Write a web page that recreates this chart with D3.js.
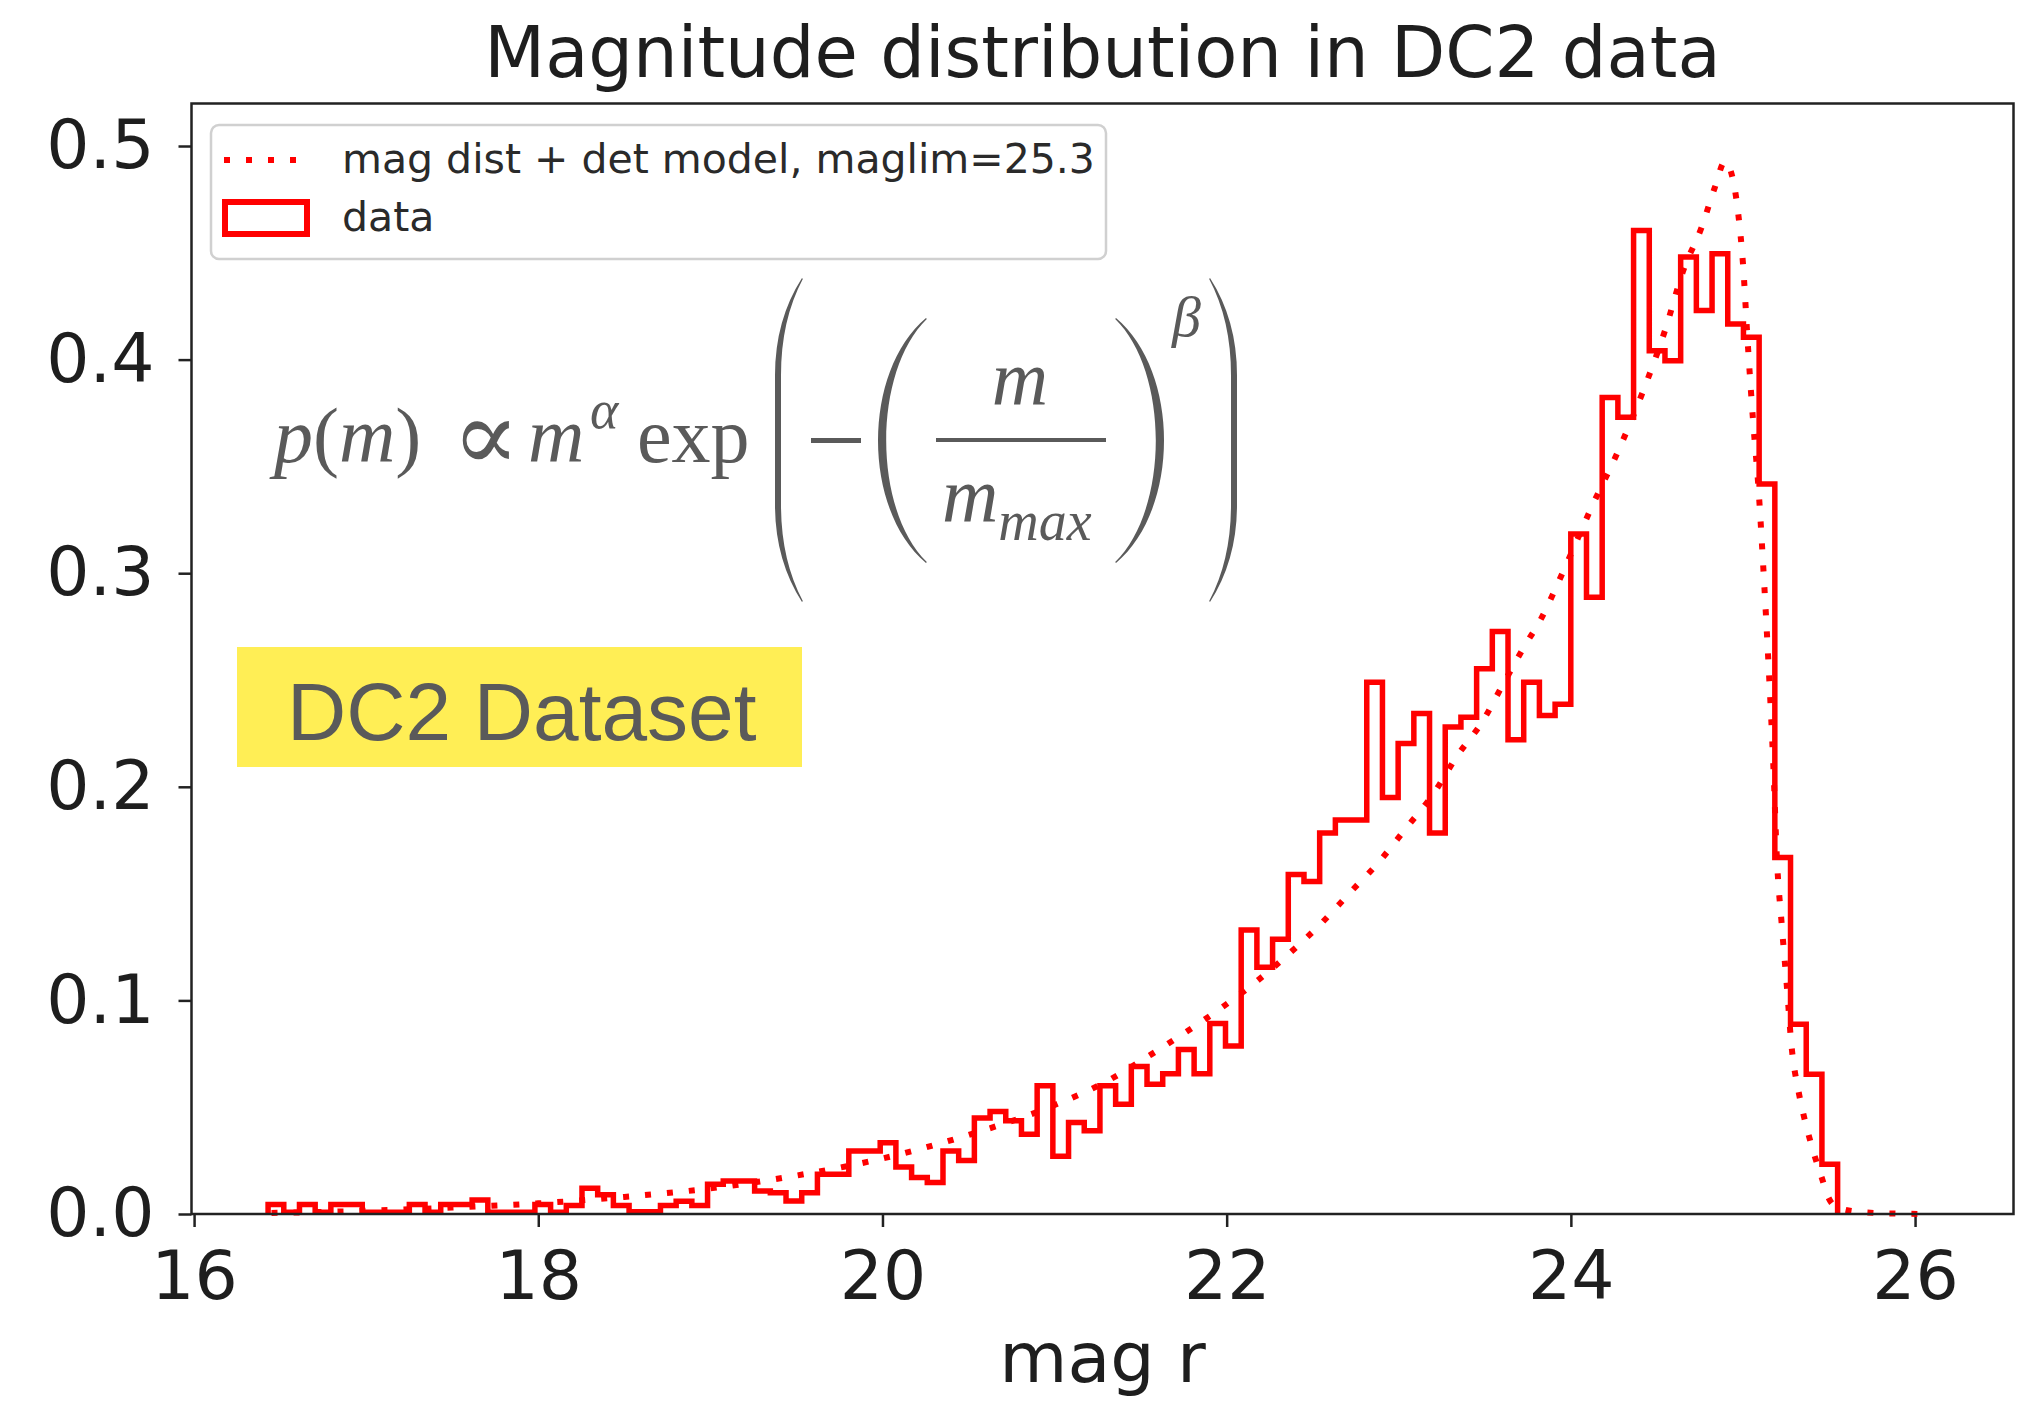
<!DOCTYPE html>
<html>
<head>
<meta charset="utf-8">
<script src="https://cdn.jsdelivr.net/npm/d3@7"></script>
<style>
  html, body { margin: 0; padding: 0; background: #ffffff; }
  svg { display: block; }
</style>
</head>
<body>
<svg id="chart" width="2029" height="1401"></svg>
<script>
// ---- data -------------------------------------------------------------
// Normalised histogram of r-band magnitudes: 100 equal bins between binLo and binHi
const binLo = 16.43;
const binHi = 25.55;
const binCount = 100;
const binDensity = [
  0.0045, 0.0008, 0.0045, 0.0008, 0.0045, 0.0045, 0.0008, 0.0008, 0.0008, 0.0045,
  0.0008, 0.0045, 0.0045, 0.0065, 0.0008, 0.0008, 0.0008, 0.0045, 0.0008, 0.0040,
  0.0120, 0.0090, 0.0040, 0.0010, 0.0010, 0.0040, 0.0060, 0.0040, 0.0139, 0.0154,
  0.0154, 0.0108, 0.0100, 0.0061, 0.0100, 0.0186, 0.0186, 0.0295, 0.0295, 0.0334,
  0.0220, 0.0171, 0.0147, 0.0295, 0.0250, 0.0450, 0.0480, 0.0436, 0.0373, 0.0600,
  0.0270, 0.0428, 0.0390, 0.0600, 0.0514, 0.0690, 0.0607, 0.0657, 0.0770, 0.0657,
  0.0892, 0.0787, 0.1330, 0.1155, 0.1286, 0.1590, 0.1557, 0.1784, 0.1845, 0.1845,
  0.2490, 0.1950, 0.2203, 0.2343, 0.1784, 0.2280, 0.2326, 0.2553, 0.2727, 0.2220,
  0.2490, 0.2334, 0.2387, 0.3183, 0.2887, 0.3823, 0.3730, 0.4604, 0.4042, 0.3995,
  0.4480, 0.4230, 0.4495, 0.4167, 0.4105, 0.3418, 0.1669, 0.0888, 0.0654, 0.0233
];

// Model: magnitude distribution multiplied by the detection model (maglim = 25.3)
const modelMag = [
  16.45, 17.0, 17.5, 18.0, 18.5, 19.0, 19.5, 20.0, 20.5, 21.0,
  21.3, 21.555, 21.758, 21.971, 22.175, 22.359, 22.543, 22.717, 22.89, 23.046,
  23.201, 23.337, 23.492, 23.608, 23.734, 23.821, 23.966, 24.121, 24.276, 24.421,
  24.547, 24.653, 24.76, 24.837, 24.895, 24.93, 24.97, 25.0, 25.03, 25.06,
  25.09, 25.12, 25.15, 25.177, 25.197, 25.225, 25.254, 25.283, 25.322, 25.351,
  25.38, 25.419, 25.457, 25.496, 25.55, 25.7, 25.9, 26.09
];
const modelDensity = [
  0.0005, 0.0015, 0.003, 0.005, 0.008, 0.012, 0.018, 0.026, 0.037, 0.051,
  0.062, 0.0744, 0.0849, 0.0966, 0.109, 0.1216, 0.1355, 0.1505, 0.1653, 0.181,
  0.1967, 0.2142, 0.2313, 0.2483, 0.2663, 0.2778, 0.3027, 0.331, 0.3574, 0.3855,
  0.4136, 0.4417, 0.462, 0.4807, 0.4927, 0.488, 0.470, 0.445, 0.405, 0.370,
  0.340, 0.300, 0.255, 0.209, 0.1669, 0.1358, 0.1077, 0.078, 0.0578, 0.0468,
  0.0375, 0.0265, 0.0172, 0.0078, 0.003, 0.0008, 0.0002, 0.0
];

const xTicks = [16, 18, 20, 22, 24, 26];
const yTicks = [0.0, 0.1, 0.2, 0.3, 0.4, 0.5];
const xDomain = [15.985, 26.572];
const yDomain = [0, 0.5199];

const titleText = "Magnitude distribution in DC2 data";
const xLabelText = "mag r";
const legendLabels = ["mag dist + det model, maglim=25.3", "data"];
const badgeText = "DC2 Dataset";

// ---- layout -----------------------------------------------------------
const plot = { left: 191.5, right: 2013.5, top: 103.5, bottom: 1214 };
const RED = "#ff0000";
const INK = "#5a5a5a";
const SANS = "'DejaVu Sans', Verdana, sans-serif";
const SERIF = "'Liberation Serif', 'Times New Roman', 'DejaVu Serif', serif";

const svg = d3.select("#chart");
svg.append("rect").attr("width", 2029).attr("height", 1401).attr("fill", "#ffffff");

const x = d3.scaleLinear().domain(xDomain).range([plot.left, plot.right]);
const y = d3.scaleLinear().domain(yDomain).range([plot.bottom, plot.top]);

// ---- axes -------------------------------------------------------------
const xAxis = d3.axisBottom(x).tickValues(xTicks).tickFormat(d3.format("d"))
  .tickSize(13).tickPadding(24);
const yAxis = d3.axisLeft(y).tickValues(yTicks).tickFormat(d3.format(".1f"))
  .tickSize(13).tickPadding(24);

const gx = svg.append("g").attr("transform", `translate(0,${plot.bottom})`).call(xAxis);
const gy = svg.append("g").attr("transform", `translate(${plot.left},0)`).call(yAxis);
[gx, gy].forEach(g => {
  g.select(".domain").remove();
  g.selectAll(".tick line").attr("stroke", "#222").attr("stroke-width", 2.5);
  g.selectAll(".tick text").attr("fill", "#1e1e1e")
    .style("font-family", SANS).style("font-size", "68px");
});

// ---- model curve (dotted) ---------------------------------------------
const modelPts = modelMag.map((m, i) => [m, modelDensity[i]]);
svg.append("path")
  .datum(modelPts)
  .attr("fill", "none")
  .attr("stroke", RED)
  .attr("stroke-width", 6)
  .attr("stroke-dasharray", "6 16")
  .attr("d", d3.line().x(d => x(d[0])).y(d => y(d[1])).curve(d3.curveMonotoneX));

// ---- histogram (step outline) -----------------------------------------
const binWidth = (binHi - binLo) / binCount;
const edges = d3.range(binCount + 1).map(i => binLo + i * binWidth);
const stepPts = [[edges[0], 0]];
binDensity.forEach((v, i) => { stepPts.push([edges[i], v]); stepPts.push([edges[i + 1], v]); });
stepPts.push([edges[binCount], 0]);
svg.append("path")
  .datum(stepPts)
  .attr("fill", "none")
  .attr("stroke", RED)
  .attr("stroke-width", 5.5)
  .attr("stroke-linejoin", "miter")
  .attr("d", d3.line().x(d => x(d[0])).y(d => y(d[1])));

// ---- frame ------------------------------------------------------------
svg.append("rect")
  .attr("x", plot.left).attr("y", plot.top)
  .attr("width", plot.right - plot.left).attr("height", plot.bottom - plot.top)
  .attr("fill", "none").attr("stroke", "#222").attr("stroke-width", 2.5);

// ---- title and axis label ---------------------------------------------
svg.append("text")
  .attr("x", (plot.left + plot.right) / 2).attr("y", 77)
  .attr("text-anchor", "middle").attr("fill", "#1e1e1e")
  .style("font-family", SANS).style("font-size", "70.5px")
  .text(titleText);
svg.append("text")
  .attr("x", (plot.left + plot.right) / 2).attr("y", 1382)
  .attr("text-anchor", "middle").attr("fill", "#1e1e1e")
  .style("font-family", SANS).style("font-size", "70px")
  .text(xLabelText);

// ---- legend -----------------------------------------------------------
const lg = svg.append("g");
lg.append("rect").attr("x", 211).attr("y", 125).attr("width", 895).attr("height", 134)
  .attr("rx", 8).attr("fill", "#ffffff").attr("fill-opacity", 0.8)
  .attr("stroke", "#d0d0d0").attr("stroke-width", 2.5);
lg.append("line").attr("x1", 224).attr("x2", 304).attr("y1", 160).attr("y2", 160)
  .attr("stroke", RED).attr("stroke-width", 6).attr("stroke-dasharray", "6 16");
lg.append("rect").attr("x", 225).attr("y", 202).attr("width", 82).attr("height", 32)
  .attr("fill", "none").attr("stroke", RED).attr("stroke-width", 6);
lg.selectAll("text.lbl").data(legendLabels).join("text")
  .attr("class", "lbl")
  .attr("x", 342).attr("y", (d, i) => 173 + i * 58)
  .attr("fill", "#2a2a2a")
  .style("font-family", SANS).style("font-size", "41px")
  .text(d => d);

// ---- formula: p(m) ∝ m^α exp(-(m/m_max)^β) ------------------------------
const fx = svg.append("g").attr("fill", INK).style("font-family", SERIF);
const lead = fx.append("text").attr("y", 462).style("font-size", "78px");
lead.append("tspan").attr("x", 274).style("font-style", "italic").text("p");
lead.append("tspan").text("(");
lead.append("tspan").style("font-style", "italic").text("m");
lead.append("tspan").text(")");
fx.append("text").attr("x", 452).attr("y", 470).style("font-size", "100px").text("\u221D");
fx.append("text").attr("x", 528).attr("y", 462).style("font-size", "78px")
  .style("font-style", "italic").text("m");
// exponent alpha sits just after the m
fx.append("text").attr("x", 590).attr("y", 428).style("font-size", "54px")
  .style("font-style", "italic").text("\u03B1");
fx.append("text").attr("x", 637).attr("y", 462).style("font-size", "78px").text("exp");

// minus sign
fx.append("rect").attr("x", 811).attr("y", 438).attr("width", 50).attr("height", 5);
// fraction m / m_max
fx.append("text").attr("x", 1020).attr("y", 405).attr("text-anchor", "middle")
  .style("font-size", "78px").style("font-style", "italic").text("m");
fx.append("rect").attr("x", 936).attr("y", 438).attr("width", 170).attr("height", 4);
const den = fx.append("text").attr("x", 942).attr("y", 522).style("font-size", "78px");
den.append("tspan").style("font-style", "italic").text("m");
den.append("tspan").attr("dy", 18).style("font-size", "56px").style("font-style", "italic").text("max");
// exponent beta
fx.append("text").attr("x", 1172).attr("y", 336).style("font-size", "58px")
  .style("font-style", "italic").text("\u03B2");

// delimiters drawn as tapered strokes
function curvedParen(xEnd, xMid, y0, y1, t) {
  // xMid < xEnd for a left paren, > for a right one
  const s = Math.sign(xEnd - xMid);
  const h = y1 - y0;
  const co = (xMid - 0.25 * xEnd) / 0.75;
  const ci = (xMid + s * t - 0.25 * xEnd) / 0.75;
  return `M${xEnd},${y0} C${co},${y0 + h * 0.22} ${co},${y1 - h * 0.22} ${xEnd},${y1}` +
         ` L${xEnd + s * 0.8},${y1 - 1} C${ci},${y1 - h * 0.22} ${ci},${y0 + h * 0.22} ${xEnd + s * 0.8},${y0 + 1} Z`;
}
function tallParen(xEnd, xBar, y0, y1, t) {
  const s = Math.sign(xEnd - xBar);
  const h = y1 - y0;
  const a = h * 0.13, b = h * 0.3;
  return `M${xEnd},${y0} Q${xBar},${y0 + a} ${xBar},${y0 + b} L${xBar},${y1 - b}` +
         ` Q${xBar},${y1 - a} ${xEnd},${y1} L${xEnd + s * 0.8},${y1 - 1}` +
         ` Q${xBar + s * t},${y1 - a} ${xBar + s * t},${y1 - b} L${xBar + s * t},${y0 + b}` +
         ` Q${xBar + s * t},${y0 + a} ${xEnd + s * 0.8},${y0 + 1} Z`;
}
fx.append("path").attr("d", tallParen(802, 775, 278, 602, 6));
fx.append("path").attr("d", tallParen(1210, 1237, 278, 602, 6));
fx.append("path").attr("d", curvedParen(926, 878, 318, 563, 8));
fx.append("path").attr("d", curvedParen(1116, 1164, 318, 563, 8));

// ---- badge ------------------------------------------------------------
svg.append("rect").attr("x", 237).attr("y", 647).attr("width", 565).attr("height", 120)
  .attr("fill", "#ffee55");
svg.append("text").attr("x", 287).attr("y", 740).attr("fill", INK)
  .style("font-family", "'Liberation Sans', Arial, Helvetica, sans-serif")
  .style("font-size", "82px")
  .text(badgeText);
</script>
</body>
</html>
